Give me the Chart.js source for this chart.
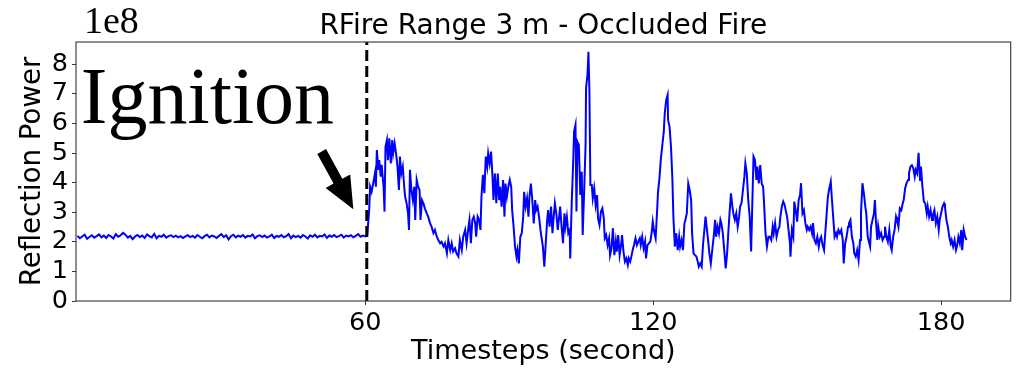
<!DOCTYPE html>
<html><head><meta charset="utf-8">
<script src="https://cdn.jsdelivr.net/npm/chart.js@4.4.1/dist/chart.umd.min.js"></script>
<style>html,body{margin:0;padding:0;background:#fff;overflow:hidden}</style>
</head><body>
<canvas id="c" width="1025" height="374" style="display:block;width:1025px;height:374px"></canvas>
<script>
const chartTitle = 'RFire Range 3 m - Occluded Fire';
const xAxisLabel = 'Timesteps (second)';
const yAxisLabel = 'Reflection Power';
const yScaleLabel = '1e8';
const annotationText = 'Ignition';
const xTickValues = [60, 120, 180];
const yTickValues = [0, 1, 2, 3, 4, 5, 6, 7, 8];
const ignitionTimeS = 60.3;
const arrowTail = [50.9, 5.05];
const arrowTip = [57.5, 3.10];
const annotationAt = [0.7, 6.0];

// Reflection power in units of 1e8, before ignition (0 - 60 s)
const baselineTimeS = [
 0,0.5,1,1.5,2,2.5,3,3.5,4,4.5, 5,5.5,6,6.5,7,7.5,8,8.5,9,9.5,
 10,10.5,11,11.5,12,12.5,13,13.5,14,14.5, 15,15.5,16,16.5,17,17.5,18,18.5,19,19.5,
 20,20.5,21,21.5,22,22.5,23,23.5,24,24.5, 25,25.5,26,26.5,27,27.5,28,28.5,29,29.5,
 30,30.5,31,31.5,32,32.5,33,33.5,34,34.5, 35,35.5,36,36.5,37,37.5,38,38.5,39,39.5,
 40,40.5,41,41.5,42,42.5,43,43.5,44,44.5, 45,45.5,46,46.5,47,47.5,48,48.5,49,49.5,
 50,50.5,51,51.5,52,52.5,53,53.5,54,54.5, 55,55.5,56,56.5,57,57.5,58,58.5,59,59.5,
 60];
const baselinePowerE8 = [
 2.20,2.12,2.18,2.24,2.10,2.16,2.22,2.14,2.19,2.25, 2.15,2.21,2.13,2.23,2.18,2.11,2.26,2.17,2.22,2.30,
 2.24,2.14,2.20,2.09,2.18,2.23,2.16,2.21,2.13,2.25, 2.19,2.15,2.27,2.12,2.20,2.17,2.24,2.14,2.19,2.22,
 2.16,2.21,2.15,2.19,2.13,2.18,2.22,2.16,2.20,2.14, 2.23,2.17,2.12,2.19,2.24,2.15,2.21,2.18,2.13,2.20,
 2.26,2.16,2.22,2.08,2.19,2.24,2.15,2.21,2.17,2.23, 2.14,2.20,2.18,2.25,2.12,2.19,2.22,2.16,2.21,2.14,
 2.18,2.24,2.13,2.20,2.17,2.23,2.15,2.19,2.26,2.12, 2.21,2.16,2.20,2.14,2.23,2.18,2.11,2.22,2.17,2.24,
 2.15,2.20,2.18,2.25,2.13,2.21,2.17,2.23,2.16,2.19, 2.24,2.14,2.21,2.18,2.22,2.15,2.20,2.26,2.17,2.21,
 2.18];

// After ignition (60.4 - 185.3 s)
const fireTimeS = [
 60.4,60.8,61.0,61.3,61.7,62.0,62.2,62.4,62.7,62.9,
 63.2,63.4,63.8,64.0,64.2,64.5,64.7,65.0,65.3,65.6,
 65.8,66.1,66.4,66.7,67.0,67.2,67.5,67.8,68.1,68.3,
 68.6,68.9,69.1,69.3,69.6,69.9,70.2,70.4,70.7,71.0,
 71.3,71.5,71.8,72.1,72.4,72.8,73.1,73.5,73.8,74.2,
 74.5,74.9,75.2,75.6,75.9,76.3,76.6,77.0,77.3,77.7,
 78.0,78.3,78.7,79.0,79.4,79.7,80.1,80.4,80.8,81.1,
 81.5,81.7,82.0,82.3,82.6,82.9,83.1,83.4,83.7,84.0,
 84.2,84.5,84.8,85.1,85.4,85.6,85.9,86.2,86.5,86.7,
 87.0,87.3,87.6,87.9,88.1,88.4,88.7,89.0,89.2,89.5,
 89.8,90.1,90.4,90.6,90.9,91.2,91.5,91.7,92.0,92.3,
 92.6,92.9,93.1,93.4,93.7,94.0,94.2,94.5,94.8,95.1,
 95.4,95.6,95.9,96.2,96.5,96.7,97.0,97.3,97.6,97.9,
 98.1,98.4,98.7,99.0,99.2,99.5,99.8,100.1,100.4,100.6,
 100.9,101.2,101.5,101.7,102.0,102.3,102.6,102.7,103.0,103.3,
 103.5,103.8,104.0,104.2,104.5,104.8,105.1,105.3,105.6,105.9,
 106.0,106.3,106.5,106.7,106.9,107.2,107.4,107.7,108.0,108.3,
 108.5,108.8,109.1,109.4,109.7,109.9,110.2,110.5,110.8,111.0,
 111.3,111.6,111.9,112.2,112.4,112.7,113.0,113.3,113.5,113.8,
 114.1,114.4,114.7,114.9,115.2,115.5,115.8,116.0,116.3,116.6,
 116.9,117.2,117.4,117.7,118.0,118.3,118.5,118.8,119.1,119.4,
 119.7,119.9,120.2,120.5,120.8,121.0,121.3,121.6,121.9,122.2,
 122.4,122.7,123.0,123.1,123.4,123.7,124.0,124.2,124.5,124.8,
 125.1,125.4,125.6,125.9,126.2,126.5,126.7,127.0,127.3,127.6,
 127.9,128.1,128.4,128.7,129.0,129.2,129.5,129.8,130.1,130.4,
 130.6,130.9,131.2,131.5,131.7,132.0,132.3,132.6,132.9,133.1,
 133.4,133.7,134.0,134.2,134.5,134.8,135.1,135.4,135.6,135.9,
 136.2,136.5,136.7,137.0,137.3,137.6,137.9,138.1,138.4,138.7,
 139.0,139.2,139.5,139.8,140.1,140.4,140.6,140.9,141.2,141.5,
 141.7,142.0,142.3,142.6,142.9,143.1,143.4,143.7,144.0,144.3,
 144.6,144.9,145.1,145.4,145.7,146.0,146.3,146.5,146.8,147.1,
 147.4,147.6,147.9,148.2,148.5,148.6,148.9,149.2,149.4,149.7,
 150.0,150.3,150.6,150.8,151.1,151.4,151.7,152.0,152.2,152.5,
 152.8,153.1,153.3,153.6,153.9,154.2,154.5,154.7,155.0,155.3,
 155.6,155.8,156.1,156.4,156.7,157.0,157.2,157.5,157.8,158.1,
 158.3,158.6,158.9,159.2,159.5,159.7,160.0,160.3,160.6,160.8,
 161.1,161.4,161.7,161.9,162.2,162.5,162.8,163.1,163.3,163.6,
 163.9,164.2,164.4,164.7,165.2,165.4,165.7,166.0,166.2,166.4,
 166.7,166.9,167.2,167.5,167.8,168.1,168.3,168.6,168.9,169.2,
 169.5,169.7,170.0,170.3,170.6,170.8,171.1,171.4,171.7,172.0,
 172.2,172.5,172.8,173.1,173.3,173.6,173.9,174.2,174.5,174.7,
 175.0,175.3,175.6,175.8,176.1,176.4,176.7,177.0,177.2,177.5,
 177.8,178.1,178.3,178.6,178.9,179.2,179.5,179.7,180.0,180.3,
 180.6,180.8,181.1,181.4,181.7,182.0,182.2,182.5,182.8,183.1,
 183.3,183.6,183.9,184.2,184.4,184.7,185.0,185.3];
const firePowerE8 = [
 2.24,3.07,3.86,3.69,4.03,4.31,3.86,5.10,4.43,4.76,
 4.20,4.60,3.86,3.02,5.21,5.44,4.76,5.50,4.65,5.44,
 4.99,5.33,4.99,4.54,3.75,4.88,4.31,4.54,3.86,3.52,
 3.30,2.96,2.40,4.43,3.75,3.41,3.86,2.74,4.09,3.86,
 3.75,2.74,3.41,3.30,3.13,2.96,2.85,2.62,2.51,2.29,
 2.40,2.17,2.06,1.95,2.00,1.84,1.95,1.61,2.06,1.72,
 1.95,1.67,1.78,1.61,1.50,2.06,1.72,2.17,2.40,1.95,
 2.51,2.74,1.95,2.74,2.85,2.62,2.17,2.85,2.74,2.40,
 3.52,4.26,3.64,4.88,4.54,4.99,4.65,5.05,4.20,3.41,
 4.31,3.30,4.31,3.41,3.86,3.19,4.09,2.85,3.97,3.52,
 3.86,4.09,3.86,3.07,2.51,1.84,1.50,1.72,1.27,2.17,
 2.29,2.85,3.69,3.19,3.47,2.85,3.52,3.97,3.41,2.62,
 3.41,3.07,3.19,2.85,2.40,2.17,1.84,1.16,1.95,2.74,
 3.07,2.51,3.19,2.29,2.74,3.30,2.96,2.40,2.85,3.19,
 2.51,1.95,2.96,2.51,2.85,2.29,2.40,1.44,3.24,4.60,
 5.72,5.95,3.02,5.38,5.27,3.58,4.37,2.23,3.69,5.27,
 7.19,7.64,8.42,7.07,3.92,3.92,3.47,3.81,3.24,3.58,
 2.79,2.57,3.02,3.13,2.79,2.12,2.23,1.89,2.12,1.55,
 1.78,2.46,1.55,2.01,1.67,2.23,1.55,1.89,2.23,1.67,
 1.33,1.44,1.22,1.44,1.33,1.55,1.78,1.89,2.12,1.89,
 2.01,2.12,1.89,2.17,1.78,2.01,1.44,1.89,1.95,2.01,
 2.34,2.68,2.34,2.12,3.02,3.69,4.15,4.82,5.27,5.72,
 6.34,6.79,6.96,6.11,5.89,5.21,4.09,2.85,1.84,2.29,
 1.72,2.17,1.84,2.06,1.72,2.62,2.74,2.96,3.97,3.75,
 3.41,2.29,1.61,1.55,1.50,1.38,1.16,1.27,1.16,1.95,
 2.29,2.85,2.40,1.95,1.61,1.27,1.72,2.17,2.74,2.17,
 2.51,2.29,2.74,2.62,2.29,1.72,1.10,1.61,2.17,2.96,
 3.64,3.19,2.96,2.74,2.96,2.51,2.85,3.19,3.30,3.75,
 4.20,4.65,4.31,3.41,2.85,1.67,2.96,4.88,4.76,4.09,
 4.54,3.97,4.59,3.97,3.86,3.30,2.29,1.84,2.17,2.17,
 2.06,2.51,2.29,2.63,2.17,2.40,2.51,2.85,3.19,3.36,
 3.24,3.07,2.85,2.40,1.95,1.50,2.40,2.17,3.36,3.07,
 2.68,3.41,3.58,3.98,2.96,3.07,2.63,2.40,2.51,2.40,
 2.51,2.29,2.63,2.06,1.95,2.17,1.84,2.06,2.17,1.89,
 1.72,2.17,2.85,3.53,3.81,4.03,3.53,2.85,2.17,2.29,
 2.17,2.40,2.29,2.40,2.06,1.27,1.95,2.17,2.51,2.63,
 2.74,2.17,1.95,1.61,1.50,1.72,1.38,2.06,2.96,3.98,
 3.64,3.19,2.96,2.17,1.84,2.51,2.74,2.96,3.41,2.74,
 2.06,2.51,2.17,2.29,2.06,2.17,2.51,2.17,2.00,2.40,
 1.84,1.72,2.17,2.40,2.85,2.74,2.51,3.13,3.07,3.30,
 3.41,3.81,3.98,4.09,4.31,4.54,4.59,4.48,4.20,4.43,
 4.31,5.01,4.09,4.54,3.86,3.36,3.30,2.96,3.19,2.85,
 3.07,2.74,2.90,3.07,2.63,2.85,2.40,2.74,2.96,3.19,
 3.30,3.19,2.74,2.51,2.17,1.95,2.06,1.84,2.06,1.72,
 1.84,2.17,1.95,2.40,1.72,2.40,2.17,2.06];

const xMin = -0.3, xMax = 194.5, yMin = 0, yMax = 8.75;

const timeS = baselineTimeS.concat(fireTimeS);
const powerE8 = baselinePowerE8.concat(firePowerE8);
const powerPoints = timeS.map((t, i) => ({x: t, y: powerE8[i]}));
const ignitionLine = [{x: ignitionTimeS, y: yMin}, {x: ignitionTimeS, y: yMax}];

const decor = {
  id: 'decor',
  afterDatasetsDraw(chart) {
    const ctx = chart.ctx, ca = chart.chartArea;
    const xs = chart.scales.x, ys = chart.scales.y;
    ctx.save();
    // frame
    ctx.strokeStyle = '#333'; ctx.lineWidth = 1.1;
    ctx.strokeRect(ca.left, ca.top, ca.right - ca.left, ca.bottom - ca.top);
    // annotation text
    ctx.fillStyle = '#000';
    ctx.textAlign = 'left'; ctx.textBaseline = 'alphabetic';
    ctx.font = '80px "Liberation Serif", "Times New Roman", serif';
    ctx.fillText(annotationText, xs.getPixelForValue(annotationAt[0]), ys.getPixelForValue(annotationAt[1]));
    // arrow
    const tx = xs.getPixelForValue(arrowTail[0]), ty = ys.getPixelForValue(arrowTail[1]);
    const px = xs.getPixelForValue(arrowTip[0]), py = ys.getPixelForValue(arrowTip[1]);
    const dx = px - tx, dy = py - ty, L = Math.hypot(dx, dy);
    const ux = dx / L, uy = dy / L, nx = -uy, ny = ux;
    const hl = 32, hw = 14, sw = 5;
    const bx = px - ux * hl, by = py - uy * hl;
    ctx.beginPath();
    ctx.moveTo(tx + nx * sw, ty + ny * sw);
    ctx.lineTo(bx + nx * sw, by + ny * sw);
    ctx.lineTo(bx + nx * hw, by + ny * hw);
    ctx.lineTo(px, py);
    ctx.lineTo(bx - nx * hw, by - ny * hw);
    ctx.lineTo(bx - nx * sw, by - ny * sw);
    ctx.lineTo(tx - nx * sw, ty - ny * sw);
    ctx.closePath();
    ctx.fill();
    // scale multiplier
    ctx.font = '38px "Liberation Serif", "Times New Roman", serif';
    ctx.fillText(yScaleLabel, ca.left + 8, ca.top - 9);
    ctx.restore();
  }
};

const tickFont = {family: 'DejaVu Sans', size: 25.5};
const labelFont = {family: 'DejaVu Sans', size: 27};

new Chart(document.getElementById('c').getContext('2d'), {
  type: 'line',
  data: {
    datasets: [
      {label: 'Ignition', data: ignitionLine, borderColor: '#000', borderWidth: 3,
       borderDash: [11, 5], pointRadius: 0, fill: false, tension: 0},
      {label: 'Reflection Power', data: powerPoints, borderColor: '#0000ff', borderWidth: 2,
       pointRadius: 0, fill: false, tension: 0}
    ]
  },
  options: {
    responsive: false, animation: false, devicePixelRatio: 1,
    layout: {padding: {left: 0, right: 14.3, top: 0, bottom: 0}},
    plugins: {
      legend: {display: false}, tooltip: {enabled: false},
      title: {display: true, text: chartTitle, fullSize: false, color: '#000',
        font: {family: 'DejaVu Sans', size: 28, weight: 'normal', lineHeight: 1.0},
        padding: {top: 12.5, bottom: 1.5}}
    },
    scales: {
      x: {
        type: 'linear', min: xMin, max: xMax,
        afterBuildTicks: s => { s.ticks = xTickValues.map(v => ({value: v})); },
        afterFit: s => { s.height = 73; },
        grid: {drawOnChartArea: false, drawTicks: true, tickLength: 4, color: '#333'},
        border: {display: false},
        ticks: {color: '#000', font: tickFont, padding: 2.8, maxRotation: 0, autoSkip: false},
        title: {display: true, text: xAxisLabel, color: '#000', font: labelFont, padding: {top: 0, bottom: 5.4}}
      },
      y: {
        type: 'linear', min: yMin, max: yMax,
        afterBuildTicks: s => { s.ticks = yTickValues.map(v => ({value: v})); },
        afterFit: s => { s.width = 76; },
        grid: {drawOnChartArea: false, drawTicks: true, tickLength: 4, color: '#333'},
        border: {display: false},
        ticks: {color: '#000', font: tickFont, padding: 4, autoSkip: false},
        title: {display: true, text: yAxisLabel, color: '#000', font: {family: 'DejaVu Sans', size: 27.6}, padding: {top: 16, bottom: 0}}
      }
    }
  },
  plugins: [decor]
});
</script>
</body></html>
